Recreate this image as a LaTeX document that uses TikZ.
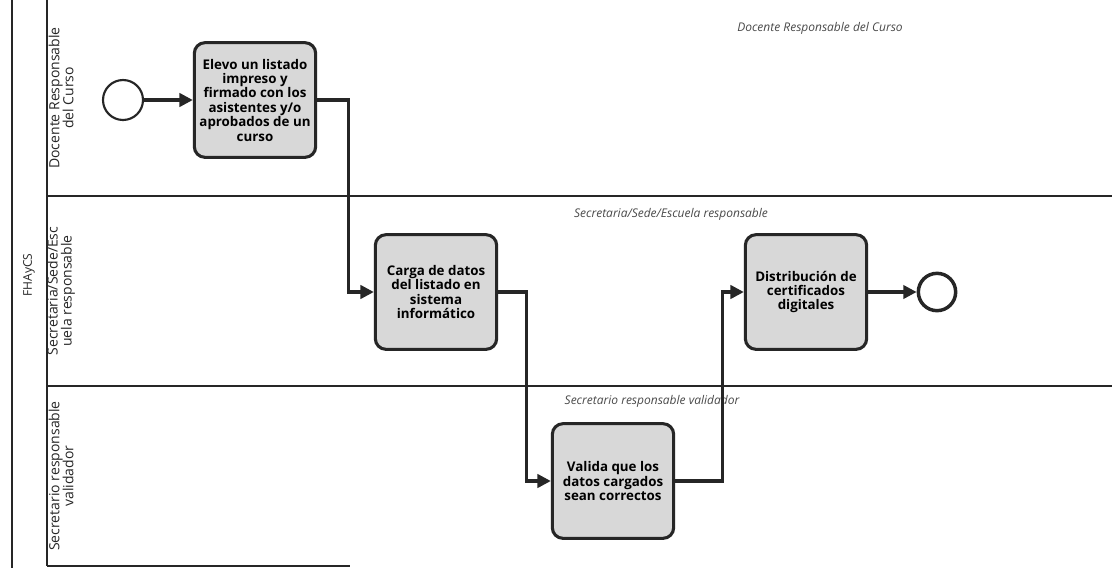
\documentclass[tikz,border=0pt]{standalone}
\usepackage{fontspec}
\setmainfont{Open Sans}
\usetikzlibrary{arrows.meta}
\definecolor{ink}{HTML}{262626}
\definecolor{taskfill}{HTML}{D8D8D8}
\definecolor{titlegray}{HTML}{4A4A4A}
\begin{document}
\begin{tikzpicture}[x=0.75pt,y=-0.75pt,
  task/.style={draw=ink, line width=2.3pt, rounded corners=8pt, fill=taskfill,
    minimum width=91pt, minimum height=86pt, align=center, inner sep=0pt,
    text=black, font=\fontsize{10}{10.8}\selectfont\bfseries},
  startev/.style={circle, draw=ink, line width=1.6pt, minimum size=30pt, inner sep=0pt, fill=white},
  endev/.style={circle, draw=ink, line width=2.6pt, minimum size=28pt, inner sep=0pt, fill=white},
  flow/.style={draw=ink, line width=2.3pt, -{Triangle[length=10pt,width=10pt]}},
  laneline/.style={draw=ink, line width=1.5pt},
  lanelabel/.style={rotate=90, align=center, text=ink, inner sep=0pt,
    font=\fontsize{10.5}{10.5}\selectfont},
  lanetitle/.style={text=titlegray, inner sep=0pt, font=\fontsize{9}{10}\selectfont\itshape},
]
\useasboundingbox (0,0) rectangle (1112,568);
\fill[white] (0,0) rectangle (1112,568);
% pool and lanes
\draw[laneline, line width=1.1pt] (12,0) -- (12,568);
\draw[laneline] (47,0) -- (47,566);
\draw[laneline] (47,196) -- (1112,196);
\draw[laneline] (47,386) -- (1112,386);
\draw[laneline] (47,566) -- (350,566);
\node[lanelabel, font=\fontsize{9}{10}\selectfont] (pool) at (29,275) {FHAyCS};
\node[lanelabel] (l1) at (61,98) {Docente Responsable\\del Curso};
\node[lanelabel] (l2) at (61,291) {Secretaria/Sede/Esc\\uela responsable};
\node[lanelabel] (l3) at (61,476) {Secretario responsable\\validador};
% lane titles
\node[lanetitle] (h1) at (820,28) {Docente Responsable del Curso};
\node[lanetitle] (h2) at (671,214) {Secretaria/Sede/Escuela responsable};
\node[lanetitle] (h3) at (652,401) {Secretario responsable validador};
% flow objects
\node[startev] (s) at (123,100) {};
\node[task] (t1) at (255,100) {Elevo un listado\\impreso y\\firmado con los\\asistentes y/o\\aprobados de un\\curso};
\node[task] (t2) at (436,292) {Carga de datos\\del listado en\\sistema\\informático};
\node[task] (t3) at (613,481) {Valida que los\\datos cargados\\sean correctos};
\node[task] (t4) at (806,292) {Distribución de\\certificados\\digitales};
\node[endev] (e) at (937,292) {};
% sequence flows
\draw[flow] (s) -- (t1);
\draw[flow] (t1.east) -- ++(31,0) |- (t2.west);
\draw[flow] (t2.east) -- ++(28,0) |- (t3.west);
\draw[flow] (t3.east) -- ++(47,0) |- (t4.west);
\draw[flow] (t4) -- (e);
\end{tikzpicture}
\end{document}
